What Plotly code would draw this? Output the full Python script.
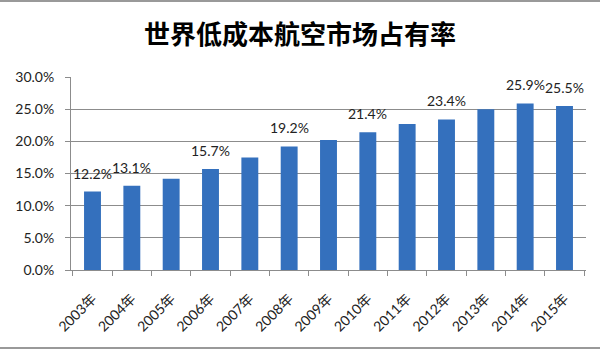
import plotly.graph_objects as go

years = ["2003年", "2004年", "2005年", "2006年", "2007年", "2008年", "2009年",
         "2010年", "2011年", "2012年", "2013年", "2014年", "2015年"]
share = [12.2, 13.1, 14.2, 15.7, 17.5, 19.2, 20.2, 21.4, 22.7, 23.4, 25.0, 25.9, 25.5]
labeled = ["2003年", "2004年", "2006年", "2008年", "2010年", "2012年", "2014年", "2015年"]

font_main = "Lato, Noto Sans CJK SC, sans-serif"

L, R, T, B = 71, 14, 77, 84
PW, PH = 600 - L - R, 354 - T - B

fig = go.Figure()
fig.add_trace(go.Bar(
    x=years, y=share,
    marker=dict(color="#3470BD", line=dict(width=0)),
    hoverinfo="skip",
))

for yr, v in zip(years, share):
    if yr in labeled:
        fig.add_annotation(x=yr, y=v, text=f"{v:.1f}%", showarrow=False,
                           yanchor="bottom", yshift=8,
                           font=dict(family=font_main, size=14, color="#222222"))

fig.update_layout(
    width=600, height=354,
    margin=dict(l=L, r=R, t=T, b=B),
    paper_bgcolor="white", plot_bgcolor="white",
    bargap=0.57,
    showlegend=False,
    title=dict(text="<b>世界低成本航空市场占有率</b>", x=0.5, xanchor="center",
               y=1 - 35 / 354, yanchor="middle",
               font=dict(family="Noto Sans CJK SC", size=26, color="#000000")),
    xaxis=dict(type="category", tickangle=-45, showgrid=False,
               showline=True, linecolor="#8c8c8c", linewidth=1,
               ticks="outside", ticklen=5, tickcolor="#8c8c8c", tickson="boundaries",
               ticklabelstandoff=14,
               tickfont=dict(family=font_main, size=14, color="#222222")),
    yaxis=dict(range=[0, 30], dtick=5, tickformat=".1f", ticksuffix="%",
               showgrid=True, gridcolor="#8c8c8c", gridwidth=1,
               showline=True, linecolor="#8c8c8c", linewidth=1,
               ticks="outside", ticklen=5, tickcolor="#8c8c8c",
               ticklabelstandoff=8,
               zeroline=False,
               tickfont=dict(family=font_main, size=14, color="#222222")),
    shapes=[
        dict(type="line", xref="paper", yref="paper", x0=-L/PW, x1=1 + R/PW,
             y0=1 + (T - 1)/PH, y1=1 + (T - 1)/PH, line=dict(color="#999999", width=2)),
        dict(type="line", xref="paper", yref="paper", x0=-L/PW, x1=1 + R/PW,
             y0=-(B - 6)/PH, y1=-(B - 6)/PH, line=dict(color="#999999", width=2)),
    ],
)

fig.write_html("out.html")
